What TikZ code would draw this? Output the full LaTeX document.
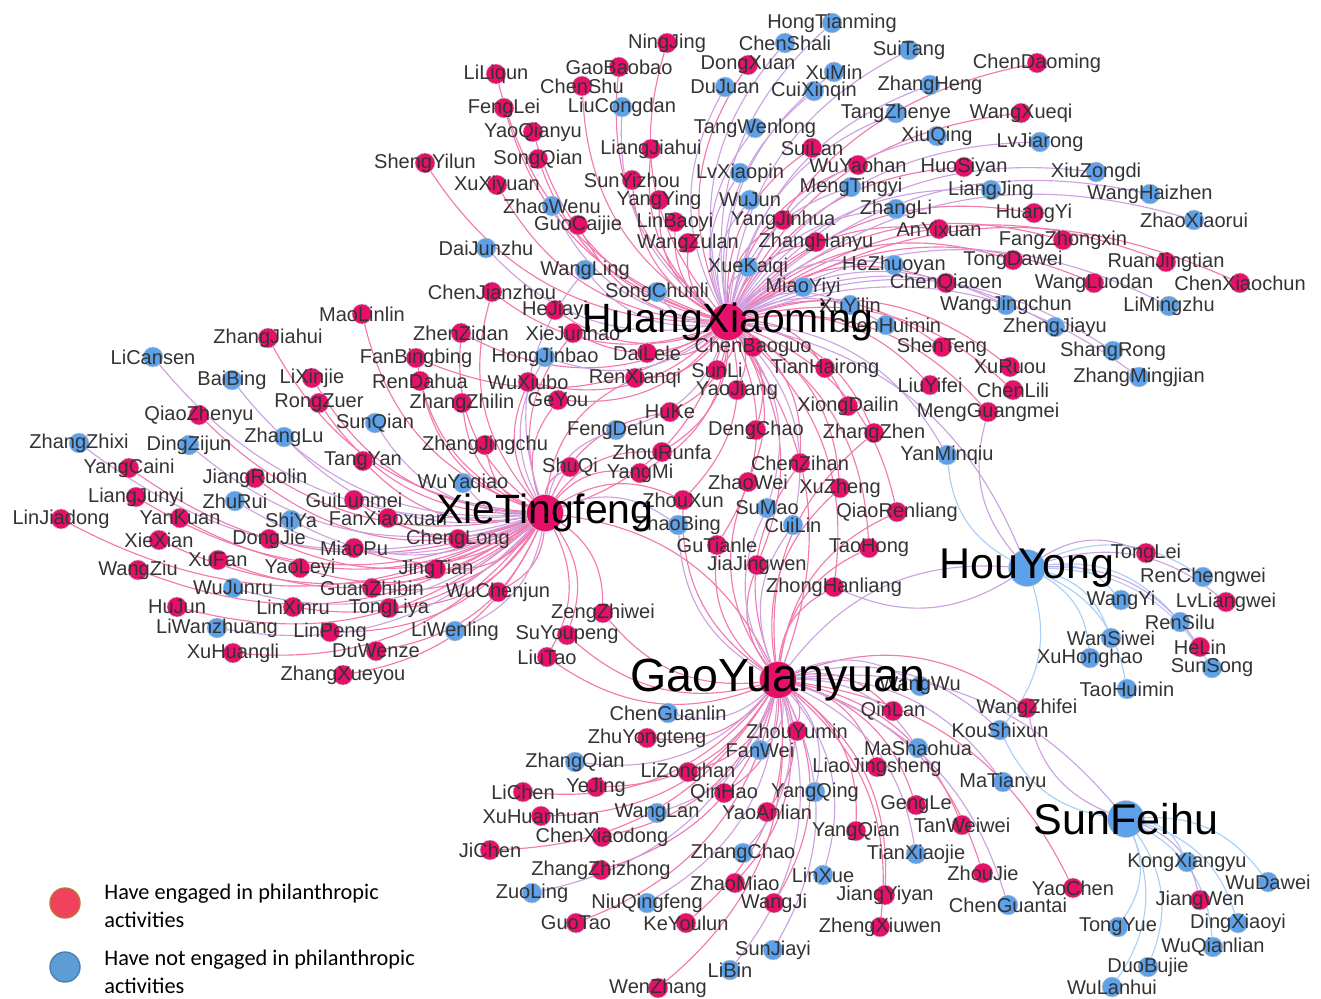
\documentclass[tikz,border=0pt]{standalone}
\usepackage{fontspec}
\setmainfont{Liberation Sans}
\newfontfamily\legendfont{Carlito}
\usetikzlibrary{backgrounds}
\definecolor{dotpink}{HTML}{E6106A}
\definecolor{dotblue}{HTML}{5CA1EA}
\definecolor{edgepink}{HTML}{F27AAD}
\definecolor{edgepurple}{HTML}{CDA2E2}
\definecolor{edgeblue}{HTML}{A9CFF6}
\definecolor{labelgray}{HTML}{333333}
\definecolor{legendred}{HTML}{F0425C}
\definecolor{legendredrim}{HTML}{C0703A}
\definecolor{legendblue}{HTML}{5E9CD6}
\definecolor{legendbluerim}{HTML}{4A7EB0}

% name/x/y in pixels of the reference
\newcommand\engagedlist{NingJing/667/43,LiLiqun/496/74,GaoBaobao/619/67,DongXuan/748/65,ChenShu/582/86,
  FengLei/504/108,YaoQianyu/533/132,SuiLan/812/148,LiangJiahui/651/149,ShengYilun/425/163,SongQian/538/159,
  XuXiyuan/497/185,SunYizhou/632/180,YangYing/659/200,GuoCaijie/578/225,LinBaoyi/675/222,YangJinhua/783/220,
  WangZulan/688/243,ZhangHanyu/816/242,ChenDaoming/1037/63,WangXueqi/1021/113,WuYaohan/858/165,
  HuoSiyan/964/167,HuangYi/1034/213,AnYixuan/939/229,FangZhongxin/1063/240,TongDawei/1013/260,
  RuanJingtian/1166/262,ChenXiaochun/1240/283,ChenQiaoen/946/283,WangLuodan/1094/283,
  MaoLinlin/362/314,ZhangJiahui/268/338,FanBingbing/416/358,LiXinjie/312/378,RenDahua/420/381,
  RongZuer/319/403,QiaoZhenyu/199/415,TangYan/363/461,YangCaini/129/468,JiangRuolin/255/478,
  LiangJunyi/136/497,GuiLunmei/354/500,LinJiadong/61/519,YanKuan/180/518,FanXiaoxuan/388/518,
  ChenJianzhou/492/292,HeJiayi/555/310,XieJunhao/573/333,ZhenZidan/461/333,DaiLele/647/353,
  ChenBaoguo/753/347,SunLi/717/370,TianHairong/825/368,WuXiubo/528/382,RenXianqi/635/378,YaoJiang/737/390,
  ZhangZhilin/462/403,GeYou/558/400,XiongDailin/848/406,HuKe/670/412,DengChao/756/430,ZhangZhen/874/433,
  ZhangJingchu/485/445,ZhouRunfa/662/452,ShuQi/570/467,YangMi/640/473,ChenZihan/800/463,ZhaoWei/748/482,
  XuZheng/840/488,ZhouXun/683/500,QiaoRenliang/897/512,ShenTeng/942/347,XuRuou/1010/367,LiuYifei/930/385,
  ChenLili/1013/390,MengGuangmei/988/412,TaoHong/869/548,TongLei/1146/553,ZhongHanliang/834/587,
  LvLiangwei/1226/602,HeLin/1200/647,QinLan/893/711,WangZhifei/1027/708,XieXian/159/540,DongJie/269/539,
  MiaoPu/354/548,ChengLong/458/539,XuFan/218/560,WangZiu/138/570,YaoLeyi/300/568,JingTian/436/569,
  GuanZhibin/372/588,WuChenjun/498/592,HuJun/177/607,LinXinru/293/607,TongLiya/389/608,LinPeng/330/632,
  XuHuangli/233/653,DuWenze/376/651,ZhangXueyou/343/675,GuTianle/717/545,JiaJingwen/757/565,
  ZengZhiwei/603/613,SuYoupeng/567/635,LiuTao/547/657,ZhuYongteng/647/738,ZhouYumin/797/731,
  LiZonghan/688/772,LiaoJingsheng/877/767,LiChen/523/792,YeJing/596/787,QinHao/724/793,GengLe/916/805,
  XuHuanhuan/541/816,YaoAnlian/767/812,TanWeiwei/962/825,ChenXiaodong/602/837,YangQian/856/831,
  JiChen/490/850,ZhangZhizhong/601/870,ZhaoMiao/735/883,WangJi/774/903,JiangYiyan/885/895,GuoTao/576/923,
  KeYoulun/686/923,ZhengXiuwen/880/927,WenZhang/658/988,ZhouJie/983/873,YaoChen/1073/888,JiangWen/1200/900}
\newcommand\notengagedlist{ChenShali/785/43,HongTianming/832/23,DuJuan/725/87,XuMin/834/72,CuiXinqin/814/91,
  LiuCongdan/622/107,TangWenlong/755/128,LvXiaopin/740/173,WuJun/750/200,ZhaoWenu/552/206,DaiJunzhu/486/248,
  SuiTang/909/50,ZhangHeng/930/85,TangZhenye/896/113,XiuQing/937/136,LvJiarong/1040/142,XiuZongdi/1096/172,
  MengTingyi/851/187,LiangJing/991/190,WangHaizhen/1150/194,ZhangLi/896/209,ZhaoXiaorui/1194/220,
  HeZhuoyan/894/265,MiaoYiyi/803/287,WangJingchun/1006/305,LiMingzhu/1169/306,XuYilin/850/305,
  ChenHuimin/886/325,ZhengJiayu/1055/327,LiCansen/153/357,BaiBing/232/380,SunQian/375/423,ZhangZhixi/79/443,
  DingZijun/189/445,ZhangLu/284/437,ZhuRui/235/501,ShiYa/291/520,WangLing/585/270,XueKaiqi/748/267,
  SongChunli/657/292,HongJinbao/545/357,FengDelun/616/430,WuYaqiao/463/483,SuMao/767/508,ZhaoBing/678/525,
  CuiLin/793/525,ShangRong/1113/351,ZhangMingjian/1139/377,YanMinqiu/947/455,RenChengwei/1203/577,
  WangYi/1121/600,RenSilu/1180/622,WanSiwei/1111/638,XuHonghao/1090/658,SunSong/1212/668,TaoHuimin/1127/689,
  WangWu/920/686,WuJunru/233/588,LiWanzhuang/217/628,LiWenling/455/631,ChenGuanlin/668/713,FanWei/760/750,
  MaShaohua/918/748,ZhangQian/575/762,YangQing/815/792,WangLan/657/813,ZhangChao/743/853,TianXiaojie/916/854,
  LinXue/823/875,ZuoLing/532/893,NiuQingfeng/647/903,SunJiayi/773/950,LiBin/730/970,KouShixun/1000/730,
  MaTianyu/1003/782,KongXiangyu/1187/862,WuDawei/1268/882,ChenGuantai/1008/905,TongYue/1118/927,
  DingXiaoyi/1238/923,WuQianlian/1213/947,DuoBujie/1148/967,WuLanhui/1112/987}

\begin{document}
\begin{tikzpicture}[x=0.02cm, y=-0.02cm,
  dot/.style={circle, inner sep=0pt, minimum size=0.4cm, draw=black!20, line width=0.3pt},
  hub/.style={dot, minimum size=0.74cm},
  lbl/.style={font=\fontsize{11.4}{13}\selectfont, text=labelgray, inner sep=0pt},
  hublbl/.style={font=\fontsize{23.3}{26}\selectfont, text=black, inner sep=0pt},
  epink/.style={draw=edgepink, line width=0.65pt},
  epurple/.style={draw=edgepurple, line width=0.65pt},
  eblue/.style={draw=edgeblue, line width=0.65pt},
  key/.style={circle, minimum size=0.6cm, line width=0.8pt},
  keytext/.style={font=\legendfont\fontsize{12.7}{15.9}\selectfont, align=left, anchor=west, inner sep=0pt}
]
  \useasboundingbox (0,0) rectangle (1321,998);

  \node[hub, fill=dotpink] (HuangXiaoming) at (728,322) {};
  \node[hub, fill=dotpink] (XieTingfeng) at (545,513) {};
  \node[hub, fill=dotpink] (GaoYuanyuan) at (778,680) {};
  \node[hub, fill=dotblue] (HouYong) at (1027,568) {};
  \node[hub, fill=dotblue] (SunFeihu) at (1126,819) {};

  \foreach \n/\x/\y in \engagedlist
    \node[dot, fill=dotpink] (\n) at (\x,\y) {};
  \foreach \n/\x/\y in \notengagedlist
    \node[dot, fill=dotblue] (\n) at (\x,\y) {};

  \begin{scope}[on background layer]
    \foreach \l in {NingJing,LiLiqun,GaoBaobao,DongXuan,ChenShu,FengLei,YaoQianyu,SuiLan,LiangJiahui,ShengYilun,
      SongQian,XuXiyuan,SunYizhou,YangYing,GuoCaijie,LinBaoyi,YangJinhua,WangZulan,ZhangHanyu,ChenDaoming,
      WangXueqi,WuYaohan,HuoSiyan,HuangYi,AnYixuan,FangZhongxin,TongDawei,RuanJingtian,ChenXiaochun,ChenQiaoen,
      WangLuodan,ChenJianzhou,HeJiayi,XieJunhao,DaiLele,ChenBaoguo,SunLi,TianHairong,ShenTeng,XuRuou,LiuYifei,
      ChenLili,MengGuangmei,XiongDailin,ZhangZhen,YaoJiang,HuKe,DengChao,ChenZihan,XuZheng,QiaoRenliang,
      RenXianqi,ZhouRunfa,ZhaoWei,ZhouXun,GuTianle,JiaJingwen,TaoHong,ZhongHanliang,ZhenZidan,FanBingbing,
      WuXiubo,GeYou,YangMi,XieTingfeng,GaoYuanyuan}
      \draw[epink] (\l) to[bend right=28] (HuangXiaoming);
    \foreach \l in {ChenShali,HongTianming,DuJuan,XuMin,CuiXinqin,LiuCongdan,TangWenlong,LvXiaopin,WuJun,
      ZhaoWenu,DaiJunzhu,SuiTang,ZhangHeng,TangZhenye,XiuQing,LvJiarong,XiuZongdi,MengTingyi,LiangJing,
      WangHaizhen,ZhangLi,ZhaoXiaorui,HeZhuoyan,MiaoYiyi,WangJingchun,LiMingzhu,XuYilin,ChenHuimin,ZhengJiayu,
      ShangRong,ZhangMingjian,WangLing,XueKaiqi,SongChunli,SuMao,CuiLin,HongJinbao,FengDelun,YanMinqiu,HouYong}
      \draw[epurple] (\l) to[bend right=28] (HuangXiaoming);

    \foreach \l in {MaoLinlin,ZhangJiahui,LiXinjie,RongZuer,QiaoZhenyu,TangYan,YangCaini,JiangRuolin,LiangJunyi,
      GuiLunmei,LinJiadong,YanKuan,FanXiaoxuan,XieXian,DongJie,MiaoPu,ChengLong,XuFan,WangZiu,YaoLeyi,JingTian,
      GuanZhibin,WuChenjun,HuJun,LinXinru,TongLiya,LinPeng,XuHuangli,DuWenze,ZhangXueyou,ZengZhiwei,SuYoupeng,
      LiuTao,ZhenZidan,FanBingbing,RenDahua,ZhangZhilin,WuXiubo,GeYou,ZhangJingchu,ShuQi,YangMi,ZhouRunfa,
      RenXianqi,HuKe,ChenJianzhou,XieJunhao,ZhouXun,GaoYuanyuan}
      \draw[epink] (\l) to[bend right=28] (XieTingfeng);
    \foreach \l in {LiCansen,BaiBing,SunQian,ZhangZhixi,DingZijun,ZhangLu,WuYaqiao,ZhuRui,ShiYa,WuJunru,
      LiWanzhuang,LiWenling,HongJinbao,FengDelun,ZhaoBing,WangLing}
      \draw[epurple] (\l) to[bend right=28] (XieTingfeng);

    \foreach \l in {ZhongHanliang,TaoHong,JiaJingwen,GuTianle,QinLan,ZhuYongteng,ZhouYumin,LiZonghan,
      LiaoJingsheng,LiChen,YeJing,QinHao,GengLe,XuHuanhuan,YaoAnlian,TanWeiwei,ChenXiaodong,YangQian,JiChen,
      ZhangZhizhong,ZhaoMiao,ZhouJie,WangJi,JiangYiyan,GuoTao,KeYoulun,ZhengXiuwen,WenZhang,WangZhifei,YaoChen,
      ZengZhiwei,SuYoupeng,LiuTao,ZhaoWei,ZhouXun,ChenZihan,XuZheng,QiaoRenliang,ZhangZhen}
      \draw[epink] (\l) to[bend right=28] (GaoYuanyuan);
    \foreach \l in {ChenGuanlin,WangWu,FanWei,MaShaohua,ZhangQian,YangQing,WangLan,ZhangChao,TianXiaojie,
      LinXue,ZuoLing,NiuQingfeng,SunJiayi,LiBin,KouShixun,MaTianyu,ChenGuantai,ZhaoBing,SuMao,CuiLin,
      HouYong,SunFeihu}
      \draw[epurple] (\l) to[bend right=28] (GaoYuanyuan);

    \foreach \l in {RenChengwei,WangYi,RenSilu,WanSiwei,XuHonghao,SunSong,TaoHuimin,YanMinqiu,KouShixun}
      \draw[eblue] (\l) to[bend right=28] (HouYong);
    \foreach \l in {TongLei,LvLiangwei,HeLin,MengGuangmei,ZhongHanliang}
      \draw[epurple] (\l) to[bend right=28] (HouYong);

    \foreach \l in {KongXiangyu,WuDawei,DingXiaoyi,WuQianlian,TongYue,DuoBujie,WuLanhui,KouShixun}
      \draw[eblue] (\l) to[bend right=28] (SunFeihu);
    \foreach \l in {JiangWen,WangZhifei}
      \draw[epurple] (\l) to[bend right=28] (SunFeihu);
  \end{scope}

  % labels on top of the dots
  \foreach \n/\x/\y in \engagedlist
    \node[lbl] at (\n) {\n};
  \foreach \n/\x/\y in \notengagedlist
    \node[lbl] at (\n) {\n};
  \node[hublbl] at (HuangXiaoming) {HuangXiaoming};
  \node[hublbl] at (XieTingfeng) {XieTingfeng};
  \node[hublbl, font=\fontsize{26.5}{29}\selectfont] at (GaoYuanyuan) {GaoYuanyuan};
  \node[hublbl, font=\fontsize{24.5}{27}\selectfont] at (HouYong) {HouYong};
  \node[hublbl, font=\fontsize{24.5}{27}\selectfont] at (SunFeihu) {SunFeihu};

  % legend
  \node[key, fill=legendred, draw=legendredrim] (keyyes) at (65,903) {};
  \node[key, fill=legendblue, draw=legendbluerim] (keyno) at (65,967) {};
  \node[keytext] (keyyestext) at (104,906) {Have engaged in philanthropic\\activities};
  \node[keytext] (keynotext) at (104,972) {Have not engaged in philanthropic\\activities};
\end{tikzpicture}
\end{document}
